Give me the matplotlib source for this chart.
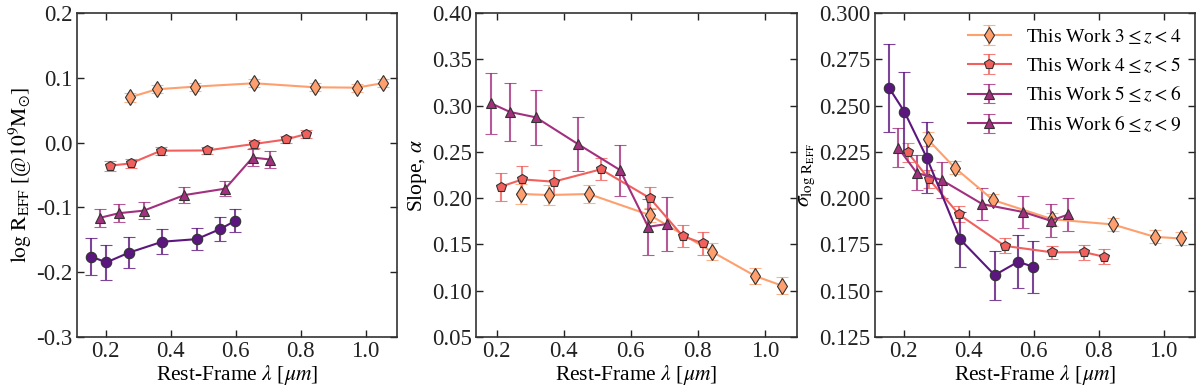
import matplotlib
matplotlib.use("Agg")
import matplotlib.pyplot as plt
import matplotlib.colors as mcolors
import numpy as np

plt.rcParams['font.family'] = ['Liberation Serif', 'DejaVu Serif']
plt.rcParams['mathtext.fontset'] = 'stix'
plt.rcParams['axes.unicode_minus'] = True

# longitudes de onda (rest-frame, micras) por bin de redshift
lam_34 = [0.274, 0.357, 0.475, 0.657, 0.843, 0.972, 1.052]
lam_45 = [0.212, 0.277, 0.370, 0.511, 0.657, 0.755, 0.817]
lam_56 = [0.183, 0.240, 0.317, 0.442, 0.568, 0.652, 0.707]
lam_69 = [0.156, 0.202, 0.271, 0.374, 0.480, 0.552, 0.599]

# panel 1: log R_eff @ 1e9 Msun
logr_34 = [0.070, 0.0825, 0.0866, 0.0918, 0.0856, 0.085, 0.092]
logr_34_err = [0.0064, 0.006, 0.006, 0.006, 0.006, 0.006, 0.006]
logr_45 = [-0.0356, -0.032, -0.0124, -0.012, -0.002, 0.005, 0.0134]
logr_45_err = [0.0077, 0.0065, 0.006, 0.006, 0.006, 0.006, 0.006]
logr_56 = [-0.116, -0.109, -0.105, -0.081, -0.071, -0.023, -0.026]
logr_56_err = [0.0143, 0.014, 0.013, 0.012, 0.012, 0.0126, 0.013]
logr_69 = [-0.176, -0.185, -0.170, -0.153, -0.149, -0.1335, -0.1206]
logr_69_err = [0.028, 0.0265, 0.0237, 0.019, 0.0168, 0.018, 0.018]

# panel 2: pendiente alpha (sin 6<=z<9)
slope_34 = [0.2045, 0.2034, 0.2045, 0.1817, 0.142, 0.1157, 0.1053]
slope_34_err = [0.011, 0.011, 0.010, 0.008, 0.009, 0.009, 0.009]
slope_45 = [0.2124, 0.2203, 0.2178, 0.2312, 0.2001, 0.159, 0.151]
slope_45_err = [0.0153, 0.0148, 0.013, 0.012, 0.0115, 0.012, 0.012]
slope_56 = [0.3026, 0.2932, 0.2874, 0.2586, 0.2304, 0.169, 0.172]
slope_56_err = [0.033, 0.031, 0.030, 0.029, 0.0276, 0.030, 0.029]

# panel 3: dispersion sigma log R_eff
sig_34 = [0.2318, 0.2165, 0.199, 0.1886, 0.1858, 0.1791, 0.1782]
sig_34_err = [0.0038, 0.0035, 0.0035, 0.0035, 0.0035, 0.0035, 0.0035]
sig_45 = [0.2248, 0.2105, 0.1912, 0.1742, 0.1707, 0.1708, 0.1683]
sig_45_err = [0.0052, 0.0049, 0.0043, 0.004, 0.0034, 0.004, 0.004]
sig_56 = [0.2273, 0.2137, 0.2098, 0.1968, 0.1925, 0.1878, 0.1912]
sig_56_err = [0.0107, 0.0095, 0.0096, 0.0086, 0.0086, 0.0088, 0.009]
sig_69 = [0.2594, 0.2468, 0.2219, 0.1777, 0.1584, 0.1656, 0.1629]
sig_69_err = [0.0238, 0.0216, 0.0192, 0.0149, 0.0133, 0.0143, 0.014]

labels = [r'This Work $3 \leq z < 4$', r'This Work $4 \leq z < 5$',
          r'This Work $5 \leq z < 6$', r'This Work $6 \leq z < 9$']

estilos = {
    '34': dict(color='#fe9f6d', marker='d', ms=8),
    '45': dict(color='#f1605d', marker='p', ms=7),
    '56': dict(color='#a3307e', marker='^', ms=7),
    '69': dict(color='#5c167f', marker='o', ms=7.5),
}


def dibujar(ax, x, y, yerr, key, label=None):
    st = estilos[key]
    ecol = mcolors.to_rgba(st['color'], 0.8)
    return ax.errorbar(x, y, yerr=yerr, color=st['color'], ecolor=ecol,
                       marker=st['marker'], ms=st['ms'], mfc=st['color'],
                       mec='#333333', mew=0.8, lw=1.5, elinewidth=1.5,
                       capsize=4.5, capthick=1.5, label=label)


fig = plt.figure(figsize=(12, 3.89), dpi=100)
bottom, top = 0.134, 0.966
ax1 = fig.add_axes([0.064, bottom, 0.267, top - bottom])
ax2 = fig.add_axes([0.397, bottom, 0.267, top - bottom])
ax3 = fig.add_axes([0.729, bottom, 0.267, top - bottom])

dibujar(ax1, lam_34, logr_34, logr_34_err, '34')
dibujar(ax1, lam_45, logr_45, logr_45_err, '45')
dibujar(ax1, lam_56, logr_56, logr_56_err, '56')
dibujar(ax1, lam_69, logr_69, logr_69_err, '69')
ax1.set_ylim(-0.3, 0.2)
ax1.set_yticks(np.arange(-0.3, 0.21, 0.1))
ax1.yaxis.set_major_formatter(matplotlib.ticker.FormatStrFormatter('%.1f'))
ax1.set_ylabel(r'$\log\,\mathrm{R_{EFF}}$ [@$10^9\mathrm{M_{\odot}}$]')

dibujar(ax2, lam_34, slope_34, slope_34_err, '34')
dibujar(ax2, lam_45, slope_45, slope_45_err, '45')
dibujar(ax2, lam_56, slope_56, slope_56_err, '56')
ax2.set_ylim(0.05, 0.40)
ax2.set_yticks(np.arange(0.05, 0.401, 0.05))
ax2.yaxis.set_major_formatter(matplotlib.ticker.FormatStrFormatter('%.2f'))
ax2.set_ylabel(r'Slope, $\alpha$')

h1 = dibujar(ax3, lam_34, sig_34, sig_34_err, '34')
h2 = dibujar(ax3, lam_45, sig_45, sig_45_err, '45')
h3 = dibujar(ax3, lam_56, sig_56, sig_56_err, '56')
h4 = dibujar(ax3, lam_69, sig_69, sig_69_err, '69')
ax3.set_ylim(0.125, 0.300)
ax3.set_yticks(np.arange(0.125, 0.301, 0.025))
ax3.yaxis.set_major_formatter(matplotlib.ticker.FormatStrFormatter('%.3f'))
ax3.set_ylabel(r'$\sigma_{\log\,\mathrm{R_{EFF}}}$')
# la leyenda original repite el simbolo del bin 5<=z<6 para 6<=z<9
ax3.legend([h1, h2, h3, h3], labels, loc='upper right', frameon=False,
           fontsize=14, handlelength=2.2, labelspacing=0.45,
           borderaxespad=0.3)

for ax in (ax1, ax2, ax3):
    ax.set_xticks([0.2, 0.4, 0.6, 0.8, 1.0])
    ax.xaxis.set_major_formatter(matplotlib.ticker.FormatStrFormatter('%.1f'))
    ax.set_xlabel(r'Rest-Frame $\lambda$ [$\mu m$]', fontsize=15.5, labelpad=1)
    ax.yaxis.label.set_size(15.5)
    ax.yaxis.labelpad = 2
    ax.tick_params(direction='in', top=True, right=True, labelsize=16.5,
                   length=5, width=1, pad=3, colors='#222222')
    for s in ax.spines.values():
        s.set_linewidth(1.2)
        s.set_color('#333333')

fig.savefig('out.png', dpi=100)
